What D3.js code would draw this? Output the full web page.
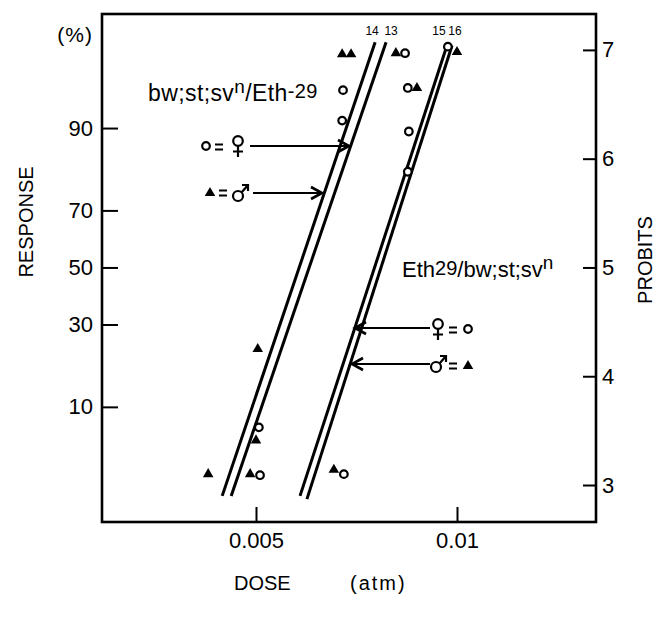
<!DOCTYPE html>
<html>
<head>
<meta charset="utf-8">
<script src="https://cdn.jsdelivr.net/npm/d3@7"></script>
<style>
  body { margin: 0; background: #fff; }
  text { font-family: "Liberation Sans", Arial, sans-serif; fill: #000; }
</style>
</head>
<body>
<div id="chart"></div>
<script>
// regression lines (probit vs log dose)
const lineIds = ['14', '13', '15', '16'];
const lineDoseLow = [0.00445, 0.00459, 0.00582, 0.00596];
const lineDoseHigh = [0.00754, 0.00783, 0.00966, 0.00983];
const lineProbitLow = [2.90, 2.90, 2.90, 2.87];
const lineProbitHigh = [7.07, 7.07, 7.04, 7.04];

// observed points: females (circles), males (triangles)
const femaleDose = [0.00675, 0.00673, 0.00505, 0.00507, 0.00836, 0.00969, 0.00844, 0.00847, 0.00844, 0.00677];
const femaleProbit = [6.63, 6.35, 3.53, 3.09, 6.97, 7.03, 6.65, 6.25, 5.88, 3.10];
const maleDose = [0.00673, 0.00694, 0.00503, 0.00500, 0.00424, 0.00490, 0.00810, 0.01000, 0.00871, 0.00654];
const maleProbit = [6.96, 6.96, 4.25, 3.41, 3.10, 3.10, 6.97, 6.98, 6.65, 3.14];

const doseTicks = [0.005, 0.01];
const probitTicks = [3, 4, 5, 6, 7];
const percentTicks = [10, 30, 50, 70, 90];

const width = 657;
const height = 622;
const margin = {top: 14, bottom: 100, left: 102, right: 61};

// inverse normal cdf (Acklam), probit = 5 + z
function normInv(p) {
  const a = [-39.69683028665376, 220.9460984245205, -275.9285104469687, 138.3577518672690, -30.66479806614716, 2.506628277459239];
  const b = [-54.47609879822406, 161.5858368580409, -155.6989798598866, 66.80131188771972, -13.28068155288572];
  const c = [-0.007784894002430293, -0.3223964580411365, -2.400758277161838, -2.549732539343734, 4.374664141464968, 2.938163982698783];
  const d = [0.007784695709041462, 0.3224671290700398, 2.445134137142996, 3.754408661907416];
  const pl = 0.02425;
  let q, r;
  if (p < pl) {
    q = Math.sqrt(-2 * Math.log(p));
    return (((((c[0]*q+c[1])*q+c[2])*q+c[3])*q+c[4])*q+c[5]) / ((((d[0]*q+d[1])*q+d[2])*q+d[3])*q+1);
  } else if (p <= 1 - pl) {
    q = p - 0.5; r = q * q;
    return (((((a[0]*r+a[1])*r+a[2])*r+a[3])*r+a[4])*r+a[5])*q / (((((b[0]*r+b[1])*r+b[2])*r+b[3])*r+b[4])*r+1);
  }
  q = Math.sqrt(-2 * Math.log(1 - p));
  return -(((((c[0]*q+c[1])*q+c[2])*q+c[3])*q+c[4])*q+c[5]) / ((((d[0]*q+d[1])*q+d[2])*q+d[3])*q+1);
}
const probit = pct => 5 + normInv(pct / 100);

const svg = d3.select('#chart')
  .append('svg')
  .attr('width', width)
  .attr('height', height)
  .attr('viewBox', [0, 0, width, height]);

const x = d3.scaleLog()
  .domain([0.00294, 0.01615])
  .range([margin.left, width - margin.right]);

const y = d3.scaleLinear()
  .domain([2.66, 7.33])
  .range([height - margin.bottom, margin.top]);

// frame
svg.append('rect')
  .attr('x', margin.left)
  .attr('y', margin.top)
  .attr('width', width - margin.right - margin.left)
  .attr('height', height - margin.bottom - margin.top)
  .attr('fill', 'none')
  .attr('stroke', '#000')
  .attr('stroke-width', 2.6);

function styleAxis(g) {
  g.select('.domain').remove();
  g.selectAll('.tick line').attr('stroke', '#000').attr('stroke-width', 2);
  g.selectAll('.tick text').attr('font-family', '"Liberation Sans", Arial, sans-serif').attr('fill', '#000');
}

svg.append('g')
  .attr('transform', `translate(0, ${height - margin.bottom})`)
  .call(d3.axisBottom(x).tickValues(doseTicks).tickFormat(d => d === 0.01 ? '0.01' : '0.005').tickSize(-15).tickPadding(10))
  .attr('font-size', 22)
  .call(styleAxis);

svg.append('g')
  .attr('transform', `translate(${margin.left}, 0)`)
  .call(d3.axisLeft(y).tickValues(percentTicks.map(probit)).tickFormat((d, i) => percentTicks[i]).tickSize(-16).tickPadding(9))
  .attr('font-size', 22)
  .call(styleAxis);

svg.append('g')
  .attr('transform', `translate(${width - margin.right}, 0)`)
  .call(d3.axisRight(y).tickValues(probitTicks).tickFormat(d3.format('d')).tickSize(-13).tickPadding(6))
  .attr('font-size', 22)
  .call(styleAxis);

// axis titles
svg.append('text')
  .attr('transform', 'translate(33, 222) rotate(-90)')
  .attr('text-anchor', 'middle')
  .attr('font-size', 20)
  .attr('fill', '#000')
  .text('RESPONSE');

svg.append('text')
  .attr('transform', 'translate(652, 260) rotate(-90)')
  .attr('text-anchor', 'middle')
  .attr('font-size', 20)
  .attr('fill', '#000')
  .text('PROBITS');

svg.append('text')
  .attr('x', 93).attr('y', 42)
  .attr('text-anchor', 'end')
  .attr('font-size', 21)
  .attr('letter-spacing', 1)
  .attr('fill', '#000')
  .text('(%)');

svg.append('text')
  .attr('x', 234).attr('y', 590)
  .attr('font-size', 20)
  .attr('fill', '#000')
  .text('DOSE');

svg.append('text')
  .attr('x', 350).attr('y', 590)
  .attr('font-size', 20)
  .attr('letter-spacing', 2)
  .attr('fill', '#000')
  .text('(atm)');

// regression lines
const lines = lineIds.map((id, i) => ({
  id,
  x1: lineDoseLow[i], y1: lineProbitLow[i],
  x2: lineDoseHigh[i], y2: lineProbitHigh[i]
}));

svg.append('g')
  .selectAll('line')
  .data(lines)
  .join('line')
    .attr('x1', d => x(d.x1))
    .attr('y1', d => y(d.y1))
    .attr('x2', d => x(d.x2))
    .attr('y2', d => y(d.y2))
    .attr('stroke', '#000')
    .attr('stroke-width', 3);

const labelShift = {'14': -3, '13': 5, '15': -8, '16': 3};
svg.append('g')
  .selectAll('text')
  .data(lines)
  .join('text')
    .attr('x', d => x(d.x2) + labelShift[d.id])
    .attr('y', 35)
    .attr('text-anchor', 'middle')
    .attr('font-size', 12)
    .attr('fill', '#000')
    .text(d => d.id);

// points
const females = femaleDose.map((d, i) => ({dose: d, p: femaleProbit[i]}));
const males = maleDose.map((d, i) => ({dose: d, p: maleProbit[i]}));

svg.append('g')
  .selectAll('path')
  .data(males)
  .join('path')
    .attr('d', d3.symbol(d3.symbolTriangle, 48))
    .attr('transform', d => `translate(${x(d.dose)}, ${y(d.p)})`)
    .attr('fill', '#000');

svg.append('g')
  .selectAll('circle')
  .data(females)
  .join('circle')
    .attr('cx', d => x(d.dose))
    .attr('cy', d => y(d.p))
    .attr('r', 3.8)
    .attr('fill', '#fff')
    .attr('stroke', '#000')
    .attr('stroke-width', 2.2);

// annotations
function arrow(x1, x2, yy) {
  const dir = x2 > x1 ? 1 : -1;
  const g = svg.append('g').attr('stroke', '#000').attr('fill', 'none');
  g.append('line').attr('x1', x1).attr('y1', yy).attr('x2', x2).attr('y2', yy).attr('stroke-width', 2);
  g.append('path')
    .attr('d', `M${x2 - dir * 11},${yy - 6} L${x2},${yy} L${x2 - dir * 11},${yy + 6}`)
    .attr('stroke-width', 2.6);
}

function legendCircle(cx, cy) {
  svg.append('circle').attr('cx', cx).attr('cy', cy).attr('r', 3.8)
    .attr('fill', '#fff').attr('stroke', '#000').attr('stroke-width', 2.2);
}
function legendTriangle(cx, cy) {
  svg.append('path').attr('d', d3.symbol(d3.symbolTriangle, 48))
    .attr('transform', `translate(${cx}, ${cy})`).attr('fill', '#000');
}
function equals(cx, cy) {
  svg.append('path')
    .attr('d', `M${cx - 4},${cy - 2.5} H${cx + 4} M${cx - 4},${cy + 2.5} H${cx + 4}`)
    .attr('stroke', '#000').attr('stroke-width', 1.8);
}
// venus sign: ring with a cross below
function female(cx, cy) {
  const g = svg.append('g').attr('stroke', '#000').attr('fill', 'none').attr('stroke-width', 2.2);
  g.append('circle').attr('cx', cx).attr('cy', cy - 4).attr('r', 4.8);
  g.append('path').attr('d', `M${cx},${cy + 1} V${cy + 12} M${cx - 5},${cy + 6.5} H${cx + 5}`);
}
// mars sign: ring with an arrow to upper right
function male(cx, cy) {
  const g = svg.append('g').attr('stroke', '#000').attr('fill', 'none').attr('stroke-width', 2.2);
  g.append('circle').attr('cx', cx - 2).attr('cy', cy + 3).attr('r', 5);
  g.append('path').attr('d', `M${cx + 1.5},${cy - 0.5} L${cx + 8},${cy - 8} M${cx + 2},${cy - 8} H${cx + 8} V${cy - 2}`);
}

const t1 = svg.append('text').attr('x', 148).attr('y', 101).attr('font-size', 23).attr('letter-spacing', 0.4).attr('fill', '#000');
t1.append('tspan').text('bw;st;sv');
t1.append('tspan').attr('dy', -8).attr('font-size', 19).text('n');
t1.append('tspan').attr('dy', 8).text('/Eth');
t1.append('tspan').attr('dy', -3).attr('font-size', 20).text('-29');

legendCircle(206, 146);
equals(219, 147);
female(238, 145);
arrow(250, 349, 146);

legendTriangle(210, 193);
equals(223, 193);
male(240, 193);
arrow(253, 322, 193);

const t2 = svg.append('text').attr('x', 402).attr('y', 277).attr('font-size', 22).attr('fill', '#000');
t2.append('tspan').text('Eth');
t2.append('tspan').attr('dy', -2).attr('font-size', 20).text('29');
t2.append('tspan').attr('dy', 2).text('/bw;st;sv');
t2.append('tspan').attr('dy', -8).attr('font-size', 19).text('n');

arrow(430, 355, 328);
female(438, 328);
equals(453, 330);
legendCircle(468, 329);

arrow(430, 352, 364);
male(438, 364);
equals(453, 366);
legendTriangle(468, 366);
</script>
</body>
</html>
